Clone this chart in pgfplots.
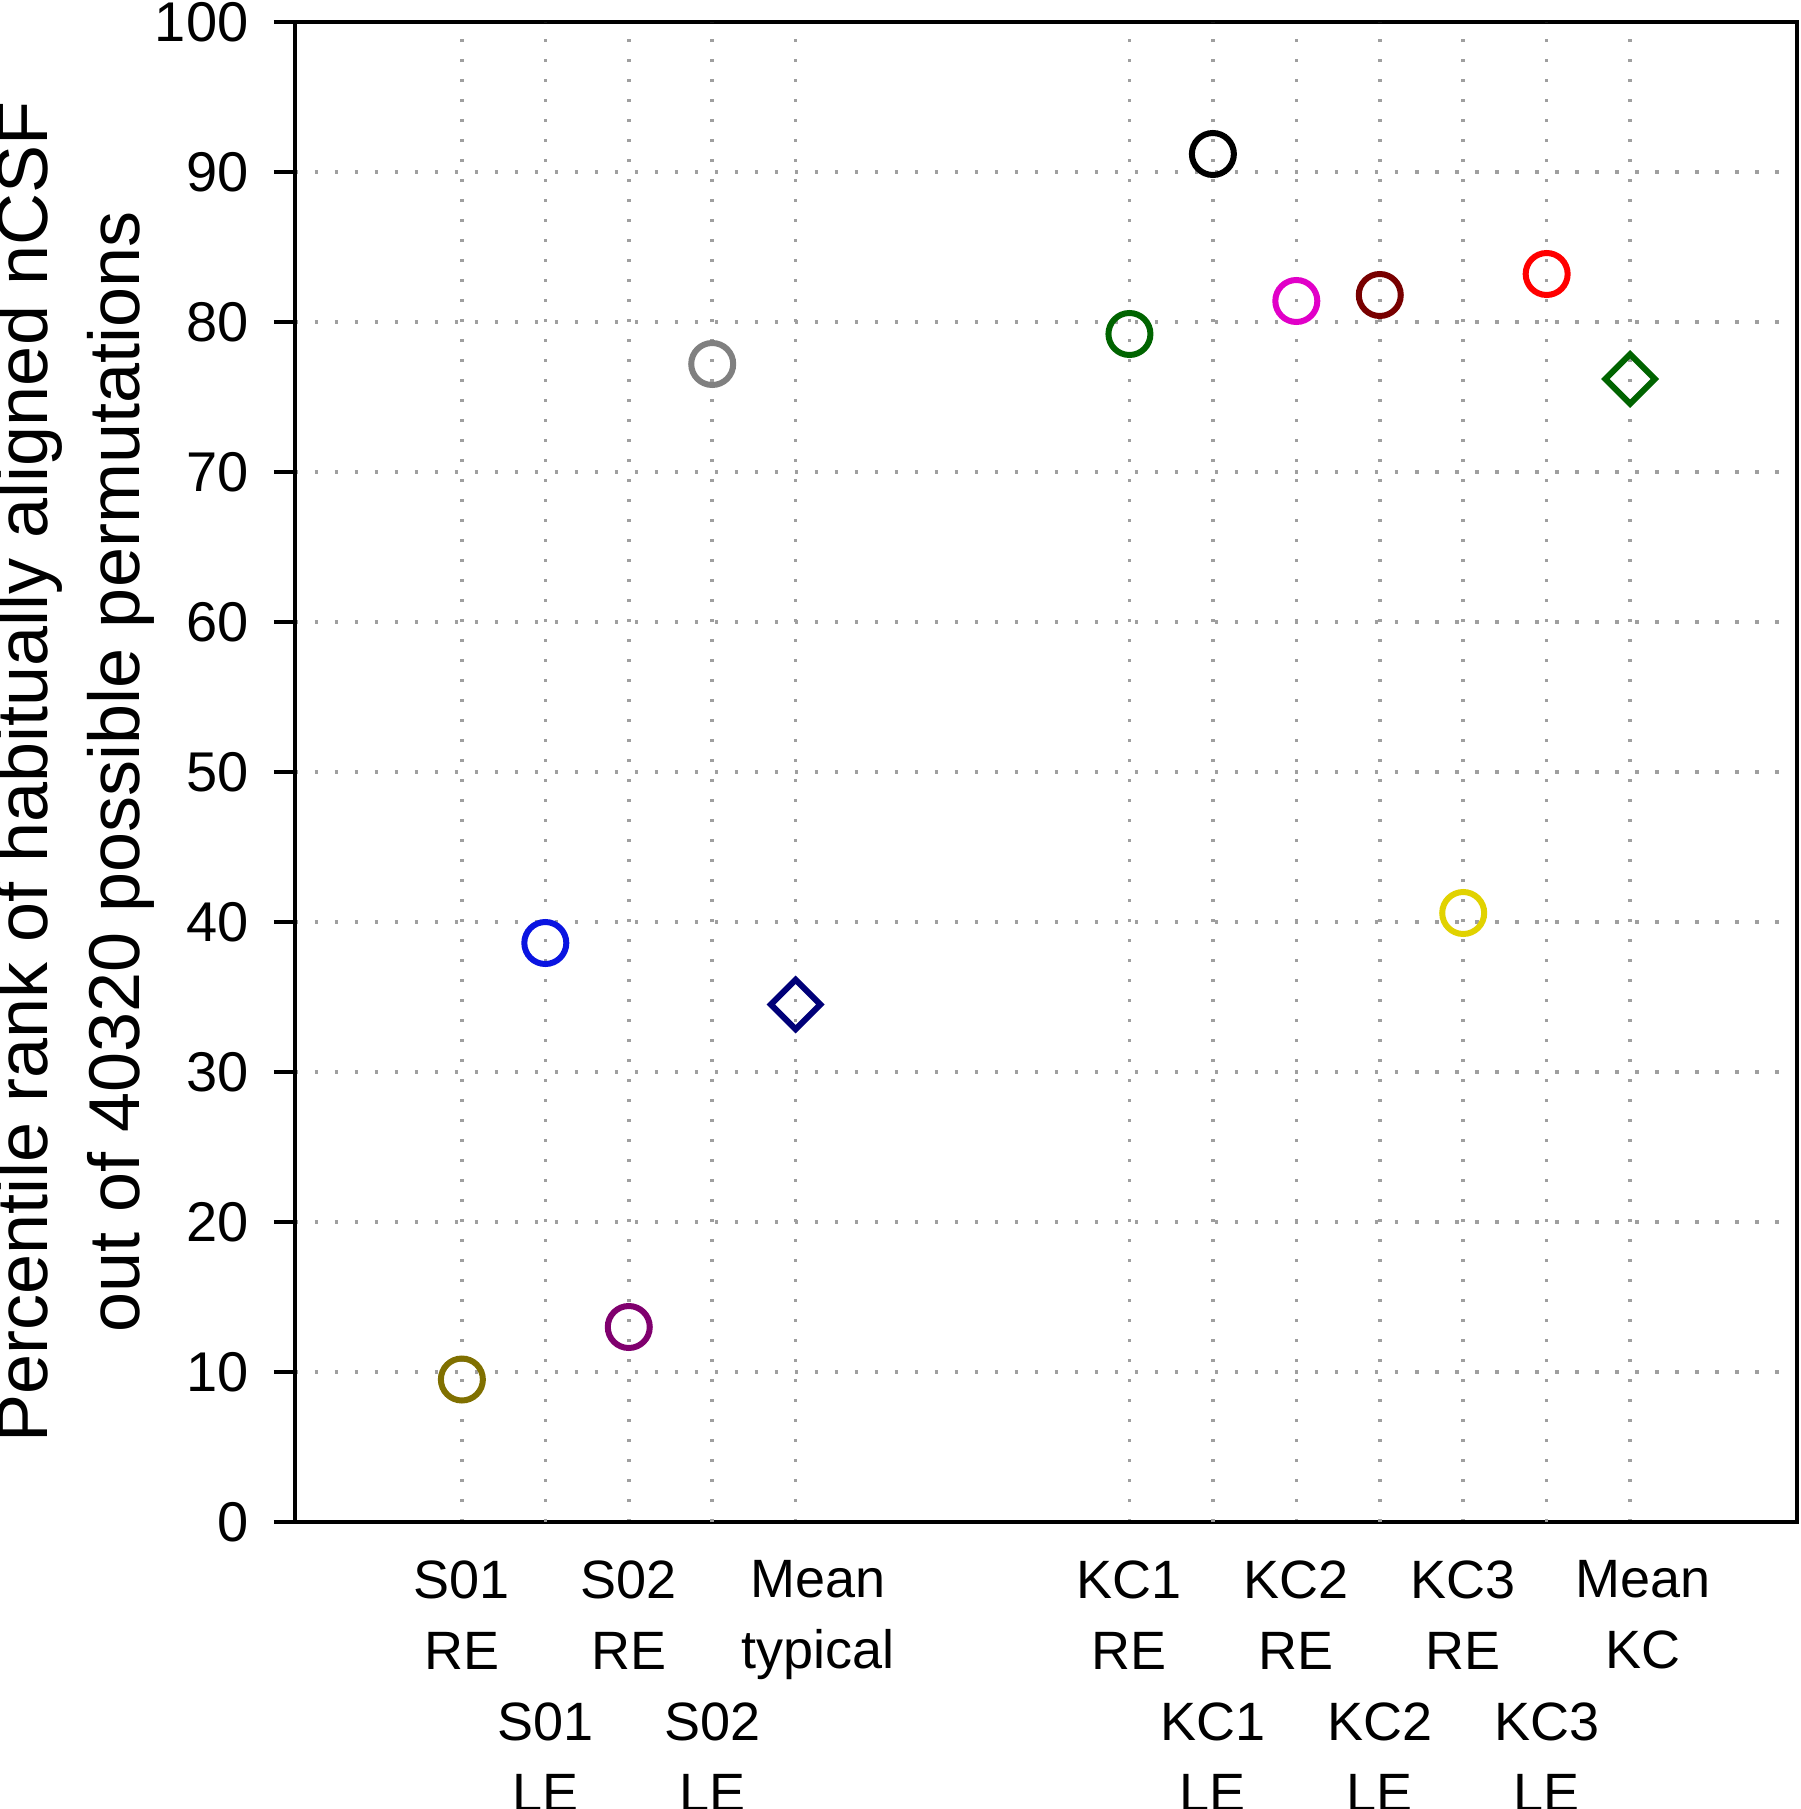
\documentclass[border=0pt]{standalone}
\usepackage{fontspec}
\setmainfont{Liberation Sans}
\usepackage{pgfplots}
\pgfplotsset{compat=1.18}

\definecolor{cOlive}{RGB}{128,112,0}
\definecolor{cBlue}{RGB}{10,20,225}
\definecolor{cPurple}{RGB}{128,0,110}
\definecolor{cGray}{RGB}{128,128,128}
\definecolor{cNavy}{RGB}{0,0,120}
\definecolor{cGreen}{RGB}{0,100,0}
\definecolor{cMagenta}{RGB}{225,0,200}
\definecolor{cMaroon}{RGB}{120,0,0}
\definecolor{cYellow}{RGB}{225,210,0}
\definecolor{cRed}{RGB}{255,0,0}

\begin{document}
\begin{tikzpicture}
% picture is 360pt x 361.8pt; axis box lower-left at origin
\path[use as bounding box] (-59pt,-57.4pt) rectangle (301pt,304.4pt);
\begin{axis}[
  scale only axis,
  width=300.4pt, height=300pt,
  xmin=-1, xmax=17,
  ymin=0, ymax=100,
  ytick={0,10,...,100},
  xtick={1,3,5,9,11,13,15},
  xticklabels={{S01\\RE},{S02\\RE},{\hspace*{9pt}Mean\\\hspace*{9pt}typical},{KC1\\RE},{KC2\\RE},{KC3\\RE},{\hspace*{5pt}Mean\\\hspace*{5pt}KC}},
  extra x ticks={2,4,10,12,14},
  extra x tick labels={{S01\\LE},{S02\\LE},{KC1\\LE},{KC2\\LE},{KC3\\LE}},
  extra x tick style={grid=major, xticklabel style={yshift=-28.4pt}},
  xticklabel style={align=center, font=\fontsize{10.8}{14.2}\selectfont},
  yticklabel style={font=\fontsize{11.2}{12}\selectfont, xshift=-1.6pt},
  /pgf/number format/assume math mode=true,
  xtick style={draw=none},
  ytick pos=left,
  tick align=outside,
  major tick length=4.2pt,
  grid=major,
  major grid style={gray!75, line width=0.7pt, dash pattern=on 0.7pt off 3.3pt},
  axis line style={line width=0.7pt},
  every tick/.style={black, line width=0.7pt},
  ylabel={Percentile rank of habitually aligned nCSF\\out of 40320 possible permutations},
  ylabel style={at={(axis description cs:-0.1465,0.5)}, anchor=center, align=center,
    font=\fontsize{14.4}{18.4}\selectfont},
  clip=false,
]
\addplot[only marks, mark=o, mark size=4.2pt, line width=1.2pt, cOlive] coordinates {(1,9.5)};
\addplot[only marks, mark=o, mark size=4.2pt, line width=1.2pt, cBlue] coordinates {(2,38.6)};
\addplot[only marks, mark=o, mark size=4.2pt, line width=1.2pt, cPurple] coordinates {(3,13.0)};
\addplot[only marks, mark=o, mark size=4.2pt, line width=1.2pt, cGray] coordinates {(4,77.2)};
\addplot[only marks, mark=square, mark size=3.5pt, mark options={rotate=45}, line width=1.2pt, cNavy] coordinates {(5,34.5)};
\addplot[only marks, mark=o, mark size=4.2pt, line width=1.2pt, cGreen] coordinates {(9,79.2)};
\addplot[only marks, mark=o, mark size=4.2pt, line width=1.2pt, black] coordinates {(10,91.2)};
\addplot[only marks, mark=o, mark size=4.2pt, line width=1.2pt, cMagenta] coordinates {(11,81.4)};
\addplot[only marks, mark=o, mark size=4.2pt, line width=1.2pt, cMaroon] coordinates {(12,81.8)};
\addplot[only marks, mark=o, mark size=4.2pt, line width=1.2pt, cYellow] coordinates {(13,40.6)};
\addplot[only marks, mark=o, mark size=4.2pt, line width=1.2pt, cRed] coordinates {(14,83.2)};
\addplot[only marks, mark=square, mark size=3.5pt, mark options={rotate=45}, line width=1.2pt, cGreen] coordinates {(15,76.2)};
\end{axis}
\end{tikzpicture}
\end{document}
